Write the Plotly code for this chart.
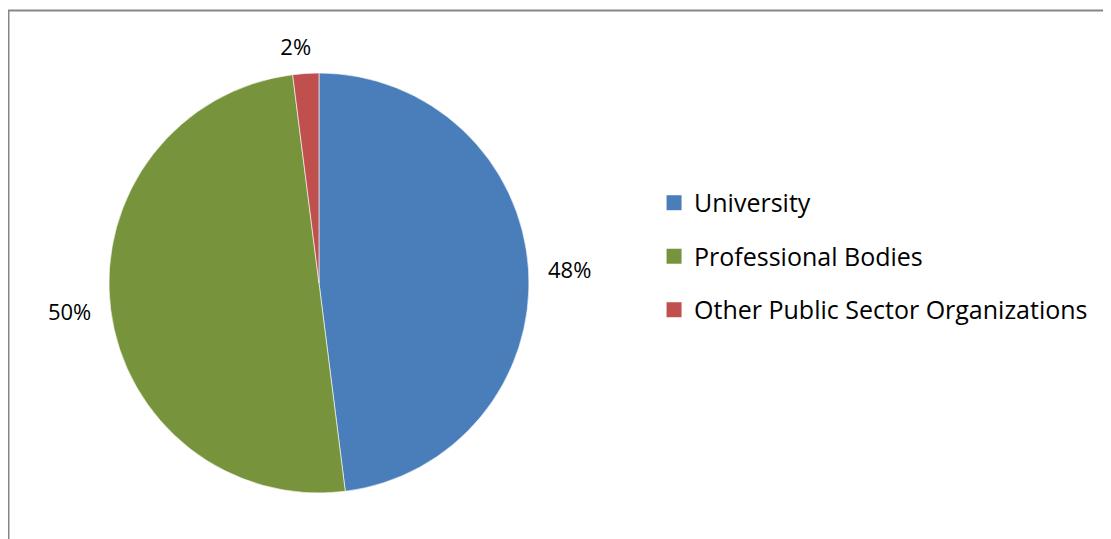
import plotly.graph_objects as go

categories = ["University", "Professional Bodies", "Other Public Sector Organizations"]
shares = [48, 50, 2]
colors = ["#4A7EBB", "#77933C", "#C0504D"]

pct_text = [f"{v}%" for v in shares]

fig = go.Figure()

label_dom = dict(x=[0.0801, 0.4797], y=[0.0779, 0.9017])
label_font = dict(family="Open Sans", size=22, color="#000000")

# transparent pies that only carry the outside % labels, a little
# larger than the visible pie so the labels sit away from it
fig.add_trace(go.Pie(
    labels=categories,
    values=shares,
    sort=False,
    direction="clockwise",
    rotation=0,
    marker=dict(colors=["rgba(0,0,0,0)"] * 3, line=dict(width=0)),
    text=[pct_text[0], pct_text[1], ""],
    texttemplate="%{text}",
    textposition="outside",
    textfont=label_font,
    showlegend=False,
    hoverinfo="skip",
    domain=label_dom,
))

# the small slice label, nudged so it sits over the slice
fig.add_trace(go.Pie(
    labels=categories,
    values=shares,
    sort=False,
    direction="clockwise",
    rotation=3.5,
    marker=dict(colors=["rgba(0,0,0,0)"] * 3, line=dict(width=0)),
    text=["", "", pct_text[2]],
    texttemplate="%{text}",
    textposition="outside",
    textfont=label_font,
    showlegend=False,
    hoverinfo="skip",
    domain=label_dom,
))

fig.add_trace(go.Pie(
    labels=categories,
    values=shares,
    sort=False,
    direction="clockwise",
    rotation=0,
    marker=dict(colors=colors, line=dict(color="white", width=0.6)),
    textinfo="none",
    showlegend=False,
    hoverinfo="label+percent",
    domain=dict(x=[0.0909, 0.4689], y=[0.1002, 0.8794]),
))

# legend entries (spaced like the original)
for i, (name, c) in enumerate(zip(categories, colors)):
    fig.add_trace(go.Scatter(
        x=[None], y=[None],
        mode="markers",
        name=name,
        legendgroup=str(i),
        marker=dict(symbol="square", size=15, color=c),
        hoverinfo="skip",
    ))

fig.update_xaxes(visible=False)
fig.update_yaxes(visible=False)

fig.update_layout(
    width=1111,
    height=539,
    margin=dict(l=0, r=0, t=0, b=0, autoexpand=False),
    paper_bgcolor="white",
    plot_bgcolor="white",
    font=dict(family="Open Sans", color="#000000"),
    legend=dict(
        x=0.5815, y=0.539,
        xanchor="left", yanchor="middle",
        font=dict(size=25),
        tracegroupgap=18,
        itemwidth=30,
    ),
    shapes=[
        dict(type="line", xref="paper", yref="paper", x0=0, x1=1, y0=1 - 2.5/539, y1=1 - 2.5/539,
             line=dict(color="#868686", width=2)),
        dict(type="line", xref="paper", yref="paper", x0=0.5/1111, x1=0.5/1111, y0=0, y1=1 - 2.5/539,
             line=dict(color="#868686", width=2)),
    ],
)

fig.write_html("out.html")
